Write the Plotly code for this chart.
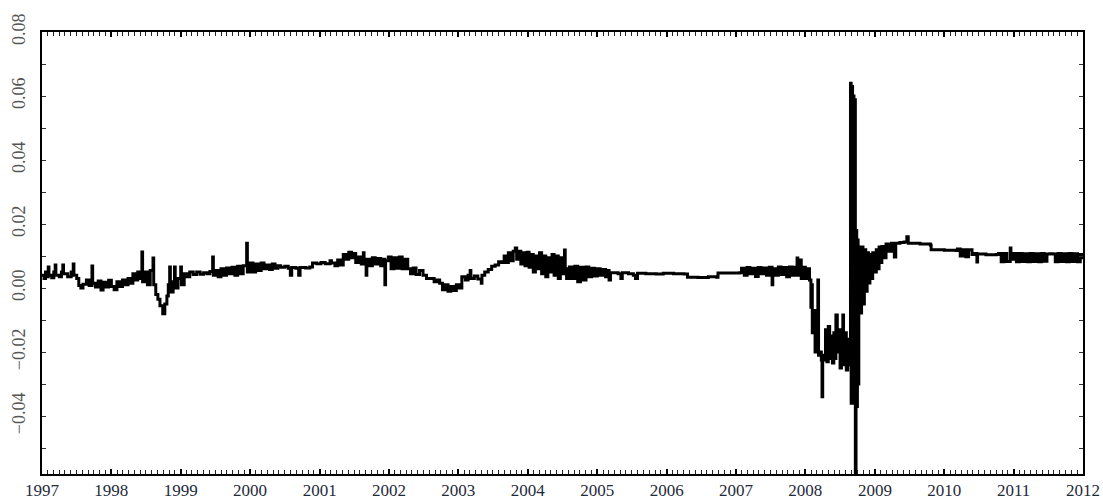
import pandas as pd
import plotly.graph_objects as go

# (decimal year, value) pairs, by period
pts_1997_2000 = [
    (1997.00, 0.0040), (1997.03, 0.0030), (1997.05, 0.0050), (1997.07, 0.0035), (1997.09, 0.0066),
    (1997.10, 0.0040), (1997.14, 0.0032), (1997.17, 0.0050), (1997.19, 0.0072), (1997.20, 0.0040),
    (1997.25, 0.0035), (1997.28, 0.0050), (1997.30, 0.0072), (1997.31, 0.0045), (1997.37, 0.0035),
    (1997.42, 0.0050), (1997.45, 0.0075), (1997.46, 0.0040), (1997.50, 0.0030), (1997.53, 0.0008),
    (1997.56, 0.0000), (1997.59, 0.0012), (1997.64, 0.0025), (1997.68, 0.0008), (1997.72, 0.0069),
    (1997.73, 0.0015), (1997.77, 0.0003), (1997.81, 0.0022), (1997.85, -0.0006), (1997.88, 0.0018),
    (1997.92, 0.0003), (1997.96, 0.0024), (1998.00, 0.0005), (1998.04, -0.0005), (1998.08, 0.0020),
    (1998.12, 0.0005), (1998.16, 0.0025), (1998.20, 0.0010), (1998.24, 0.0030), (1998.28, 0.0015),
    (1998.31, 0.0045), (1998.35, 0.0025), (1998.38, 0.0050), (1998.42, 0.0030), (1998.44, 0.0113),
    (1998.45, 0.0020), (1998.49, 0.0050), (1998.52, 0.0010), (1998.56, 0.0055), (1998.60, 0.0094),
    (1998.61, 0.0010), (1998.64, -0.0020), (1998.67, -0.0035), (1998.70, -0.0055), (1998.74, -0.0080),
    (1998.77, -0.0050), (1998.80, -0.0025), (1998.82, 0.0010), (1998.84, 0.0066), (1998.85, -0.0012),
    (1998.89, 0.0020), (1998.91, 0.0066), (1998.92, 0.0000), (1998.96, 0.0030), (1999.00, 0.0066),
    (1999.01, 0.0010), (1999.05, 0.0045), (1999.09, 0.0035), (1999.13, 0.0050), (1999.18, 0.0042),
    (1999.23, 0.0050), (1999.28, 0.0043), (1999.33, 0.0048), (1999.38, 0.0045), (1999.42, 0.0052),
    (1999.46, 0.0097), (1999.47, 0.0040), (1999.50, 0.0055), (1999.54, 0.0035), (1999.58, 0.0060),
    (1999.62, 0.0040), (1999.66, 0.0063), (1999.70, 0.0045), (1999.74, 0.0065), (1999.78, 0.0040),
    (1999.82, 0.0068), (1999.86, 0.0045), (1999.90, 0.0070), (1999.95, 0.0140), (1999.96, 0.0050),
]

pts_2000_2004 = [
    (2000.00, 0.0078), (2000.04, 0.0050), (2000.08, 0.0075), (2000.12, 0.0055), (2000.16, 0.0078),
    (2000.20, 0.0060), (2000.24, 0.0072), (2000.28, 0.0058), (2000.32, 0.0075), (2000.36, 0.0062),
    (2000.40, 0.0070), (2000.44, 0.0065), (2000.50, 0.0068), (2000.55, 0.0062), (2000.58, 0.0040),
    (2000.60, 0.0064), (2000.66, 0.0062), (2000.70, 0.0040), (2000.72, 0.0064), (2000.80, 0.0063),
    (2000.86, 0.0066), (2000.90, 0.0078), (2000.96, 0.0076), (2001.02, 0.0080), (2001.08, 0.0076),
    (2001.15, 0.0085), (2001.17, 0.0078), (2001.22, 0.0070), (2001.26, 0.0088), (2001.30, 0.0072),
    (2001.34, 0.0105), (2001.38, 0.0090), (2001.42, 0.0112), (2001.46, 0.0095), (2001.48, 0.0108),
    (2001.52, 0.0080), (2001.56, 0.0097), (2001.60, 0.0075), (2001.63, 0.0110), (2001.64, 0.0085),
    (2001.67, 0.0040), (2001.68, 0.0090), (2001.72, 0.0070), (2001.76, 0.0095), (2001.80, 0.0075),
    (2001.84, 0.0092), (2001.88, 0.0070), (2001.91, 0.0090), (2001.94, 0.0010), (2001.95, 0.0085),
    (2001.99, 0.0097), (2002.03, 0.0060), (2002.07, 0.0095), (2002.11, 0.0062), (2002.15, 0.0097),
    (2002.19, 0.0060), (2002.23, 0.0090), (2002.27, 0.0060), (2002.31, 0.0045), (2002.35, 0.0063),
    (2002.39, 0.0042), (2002.44, 0.0055), (2002.49, 0.0040), (2002.54, 0.0030), (2002.60, 0.0030),
    (2002.65, 0.0020), (2002.69, 0.0025), (2002.73, 0.0015), (2002.77, -0.0005), (2002.81, 0.0010),
    (2002.85, -0.0010), (2002.89, 0.0005), (2002.93, -0.0008), (2002.97, 0.0010), (2003.01, 0.0000),
    (2003.05, 0.0035), (2003.10, 0.0025), (2003.14, 0.0040), (2003.17, 0.0055), (2003.18, 0.0030),
    (2003.23, 0.0038), (2003.28, 0.0028), (2003.33, 0.0015), (2003.34, 0.0040), (2003.38, 0.0050),
    (2003.43, 0.0058), (2003.48, 0.0068), (2003.53, 0.0072), (2003.58, 0.0082), (2003.62, 0.0080),
    (2003.66, 0.0100), (2003.69, 0.0080), (2003.72, 0.0110), (2003.75, 0.0085), (2003.79, 0.0115),
    (2003.82, 0.0125), (2003.84, 0.0090), (2003.87, 0.0115), (2003.90, 0.0075), (2003.93, 0.0110),
    (2003.96, 0.0070), (2003.99, 0.0112),
]

pts_2004_2008 = [
    (2004.02, 0.0065), (2004.05, 0.0105), (2004.08, 0.0050), (2004.11, 0.0100), (2004.14, 0.0060),
    (2004.17, 0.0110), (2004.20, 0.0045), (2004.23, 0.0100), (2004.26, 0.0035), (2004.29, 0.0095),
    (2004.32, 0.0050), (2004.35, 0.0105), (2004.38, 0.0040), (2004.41, 0.0100), (2004.44, 0.0030),
    (2004.47, 0.0095), (2004.50, 0.0045), (2004.53, 0.0119), (2004.54, 0.0060), (2004.56, 0.0030),
    (2004.60, 0.0066), (2004.64, 0.0030), (2004.68, 0.0068), (2004.72, 0.0020), (2004.76, 0.0065),
    (2004.80, 0.0025), (2004.84, 0.0066), (2004.88, 0.0035), (2004.92, 0.0062), (2004.96, 0.0038),
    (2005.00, 0.0060), (2005.04, 0.0040), (2005.08, 0.0058), (2005.12, 0.0035), (2005.14, 0.0055),
    (2005.17, 0.0025), (2005.19, 0.0048), (2005.30, 0.0045), (2005.34, 0.0030), (2005.36, 0.0048),
    (2005.45, 0.0045), (2005.52, 0.0040), (2005.55, 0.0030), (2005.58, 0.0046), (2005.70, 0.0045),
    (2005.85, 0.0044), (2005.95, 0.0046), (2006.10, 0.0045), (2006.25, 0.0044), (2006.30, 0.0034),
    (2006.45, 0.0033), (2006.60, 0.0035), (2006.72, 0.0034), (2006.74, 0.0047), (2006.90, 0.0047),
    (2007.05, 0.0048), (2007.08, 0.0062), (2007.12, 0.0040), (2007.16, 0.0064), (2007.20, 0.0045),
    (2007.24, 0.0062), (2007.28, 0.0036), (2007.32, 0.0064), (2007.36, 0.0045), (2007.40, 0.0063),
    (2007.44, 0.0040), (2007.48, 0.0065), (2007.52, 0.0010), (2007.53, 0.0060), (2007.57, 0.0040),
    (2007.61, 0.0066), (2007.65, 0.0042), (2007.69, 0.0064), (2007.73, 0.0035), (2007.77, 0.0066),
    (2007.81, 0.0040), (2007.85, 0.0065), (2007.88, 0.0094), (2007.89, 0.0040), (2007.92, 0.0088),
    (2007.94, 0.0030), (2007.97, 0.0065), (2008.00, 0.0030), (2008.04, 0.0060),
]

pts_2008_crisis = [
    (2008.06, 0.0025), (2008.08, -0.0060), (2008.09, 0.0010), (2008.10, -0.0140), (2008.12, -0.0070),
    (2008.14, -0.0200), (2008.16, -0.0090), (2008.18, 0.0025), (2008.19, -0.0210), (2008.21, -0.0200),
    (2008.23, -0.0225), (2008.24, -0.0340), (2008.25, -0.0210), (2008.27, -0.0225), (2008.29, -0.0130),
    (2008.31, -0.0230), (2008.33, -0.0120), (2008.35, -0.0220), (2008.37, -0.0150), (2008.39, -0.0234),
    (2008.41, -0.0140), (2008.43, -0.0220), (2008.44, -0.0084), (2008.46, -0.0200), (2008.48, -0.0130),
    (2008.50, -0.0250), (2008.52, -0.0150), (2008.54, -0.0084), (2008.55, -0.0240), (2008.57, -0.0140),
    (2008.59, -0.0256), (2008.61, -0.0160), (2008.63, -0.0240), (2008.65, 0.0640), (2008.66, -0.0360),
    (2008.67, 0.0630), (2008.68, -0.0300), (2008.69, 0.0600), (2008.70, -0.0360), (2008.71, 0.0588),
    (2008.72, -0.0590), (2008.73, 0.0180), (2008.74, -0.0370), (2008.75, 0.0150), (2008.76, -0.0300),
    (2008.77, 0.0128), (2008.79, -0.0078), (2008.81, 0.0128), (2008.83, -0.0050), (2008.85, 0.0120),
    (2008.87, -0.0010), (2008.89, 0.0110), (2008.91, 0.0016), (2008.93, 0.0105), (2008.95, 0.0030),
    (2008.97, 0.0110), (2009.00, 0.0050), (2009.02, 0.0120), (2009.04, 0.0060), (2009.06, 0.0128),
    (2009.08, 0.0080), (2009.10, 0.0130), (2009.13, 0.0095), (2009.16, 0.0138), (2009.20, 0.0115),
    (2009.24, 0.0140), (2009.28, 0.0097), (2009.30, 0.0140),
]

pts_2009_2012 = [
    (2009.36, 0.0142), (2009.42, 0.0144), (2009.46, 0.0160), (2009.48, 0.0140), (2009.55, 0.0140),
    (2009.65, 0.0138), (2009.80, 0.0134), (2009.81, 0.0120), (2010.00, 0.0118), (2010.17, 0.0117),
    (2010.19, 0.0122), (2010.23, 0.0100), (2010.27, 0.0120), (2010.31, 0.0098), (2010.35, 0.0120),
    (2010.40, 0.0105), (2010.44, 0.0108), (2010.47, 0.0081), (2010.48, 0.0106), (2010.60, 0.0104),
    (2010.75, 0.0105), (2010.78, 0.0108), (2010.82, 0.0082), (2010.86, 0.0108), (2010.90, 0.0083),
    (2010.95, 0.0125), (2010.96, 0.0090), (2011.00, 0.0108), (2011.04, 0.0082), (2011.08, 0.0108),
    (2011.12, 0.0083), (2011.16, 0.0107), (2011.20, 0.0082), (2011.24, 0.0108), (2011.28, 0.0083),
    (2011.32, 0.0107), (2011.36, 0.0082), (2011.40, 0.0108), (2011.44, 0.0084), (2011.48, 0.0106),
    (2011.52, 0.0107), (2011.57, 0.0106), (2011.60, 0.0082), (2011.64, 0.0108), (2011.68, 0.0083),
    (2011.72, 0.0107), (2011.76, 0.0082), (2011.80, 0.0108), (2011.84, 0.0083), (2011.88, 0.0107),
    (2011.92, 0.0082), (2011.96, 0.0105), (2011.99, 0.0090),
]

y_ticks = [-0.04, -0.02, 0.00, 0.02, 0.04, 0.06, 0.08]
y_tick_labels = ["\u22120.04", "\u22120.02", "0.00", "0.02", "0.04", "0.06", "0.08"]


def to_date(t):
    year = int(t)
    start = pd.Timestamp(year=year, month=1, day=1)
    return start + pd.Timedelta(days=(t - year) * 365.25)


all_pts = pts_1997_2000 + pts_2000_2004 + pts_2004_2008 + pts_2008_crisis + pts_2009_2012
dates = [to_date(t) for t, _ in all_pts]
vals = [v for _, v in all_pts]

fig = go.Figure()
fig.add_trace(go.Scatter(x=dates, y=vals, mode="lines",
                         line=dict(color="black", width=3, shape="hv"), showlegend=False))

fig.update_layout(
    width=1103, height=504,
    margin=dict(l=42, r=20, t=32, b=30, autoexpand=False),
    paper_bgcolor="white", plot_bgcolor="white",
    font=dict(family="Liberation Serif", color="#222"),
)
fig.update_xaxes(
    type="date", automargin=False,
    range=[pd.Timestamp("1997-01-01"), pd.Timestamp("2012-01-01")],
    tick0="1997-01-01", dtick="M12", tickformat="%Y",
    tickfont=dict(family="Liberation Serif", size=17, color="#1f2a3a"),
    ticks="inside", ticklen=5, tickwidth=1.5, tickcolor="black",
    minor=dict(dtick="M1", tick0="1997-01-01", ticks="inside", ticklen=4, tickwidth=1.4, tickcolor="#222"),
    showline=True, linecolor="black", linewidth=2, mirror="allticks",
    showgrid=False, zeroline=False, ticklabelstandoff=0,
)
fig.update_yaxes(
    automargin=False,
    range=[-0.0581, 0.08],
    tickvals=y_ticks, ticktext=y_tick_labels, tickangle=-90,
    tickfont=dict(family="Liberation Serif", size=18, color="#555"),
    ticks="inside", ticklen=4, tickwidth=1.2, tickcolor="#333",
    minor=dict(dtick=0.01, tick0=0, ticks="inside", ticklen=4, tickwidth=1.2, tickcolor="#333"),
    showline=True, linecolor="black", linewidth=2, mirror="allticks",
    showgrid=False, zeroline=False, ticklabelstandoff=8,
)

fig.write_html(
    "out.html",
    config={"displayModeBar": False},
    post_script="document.body.style.margin='0';document.body.style.overflow='hidden';",
)
